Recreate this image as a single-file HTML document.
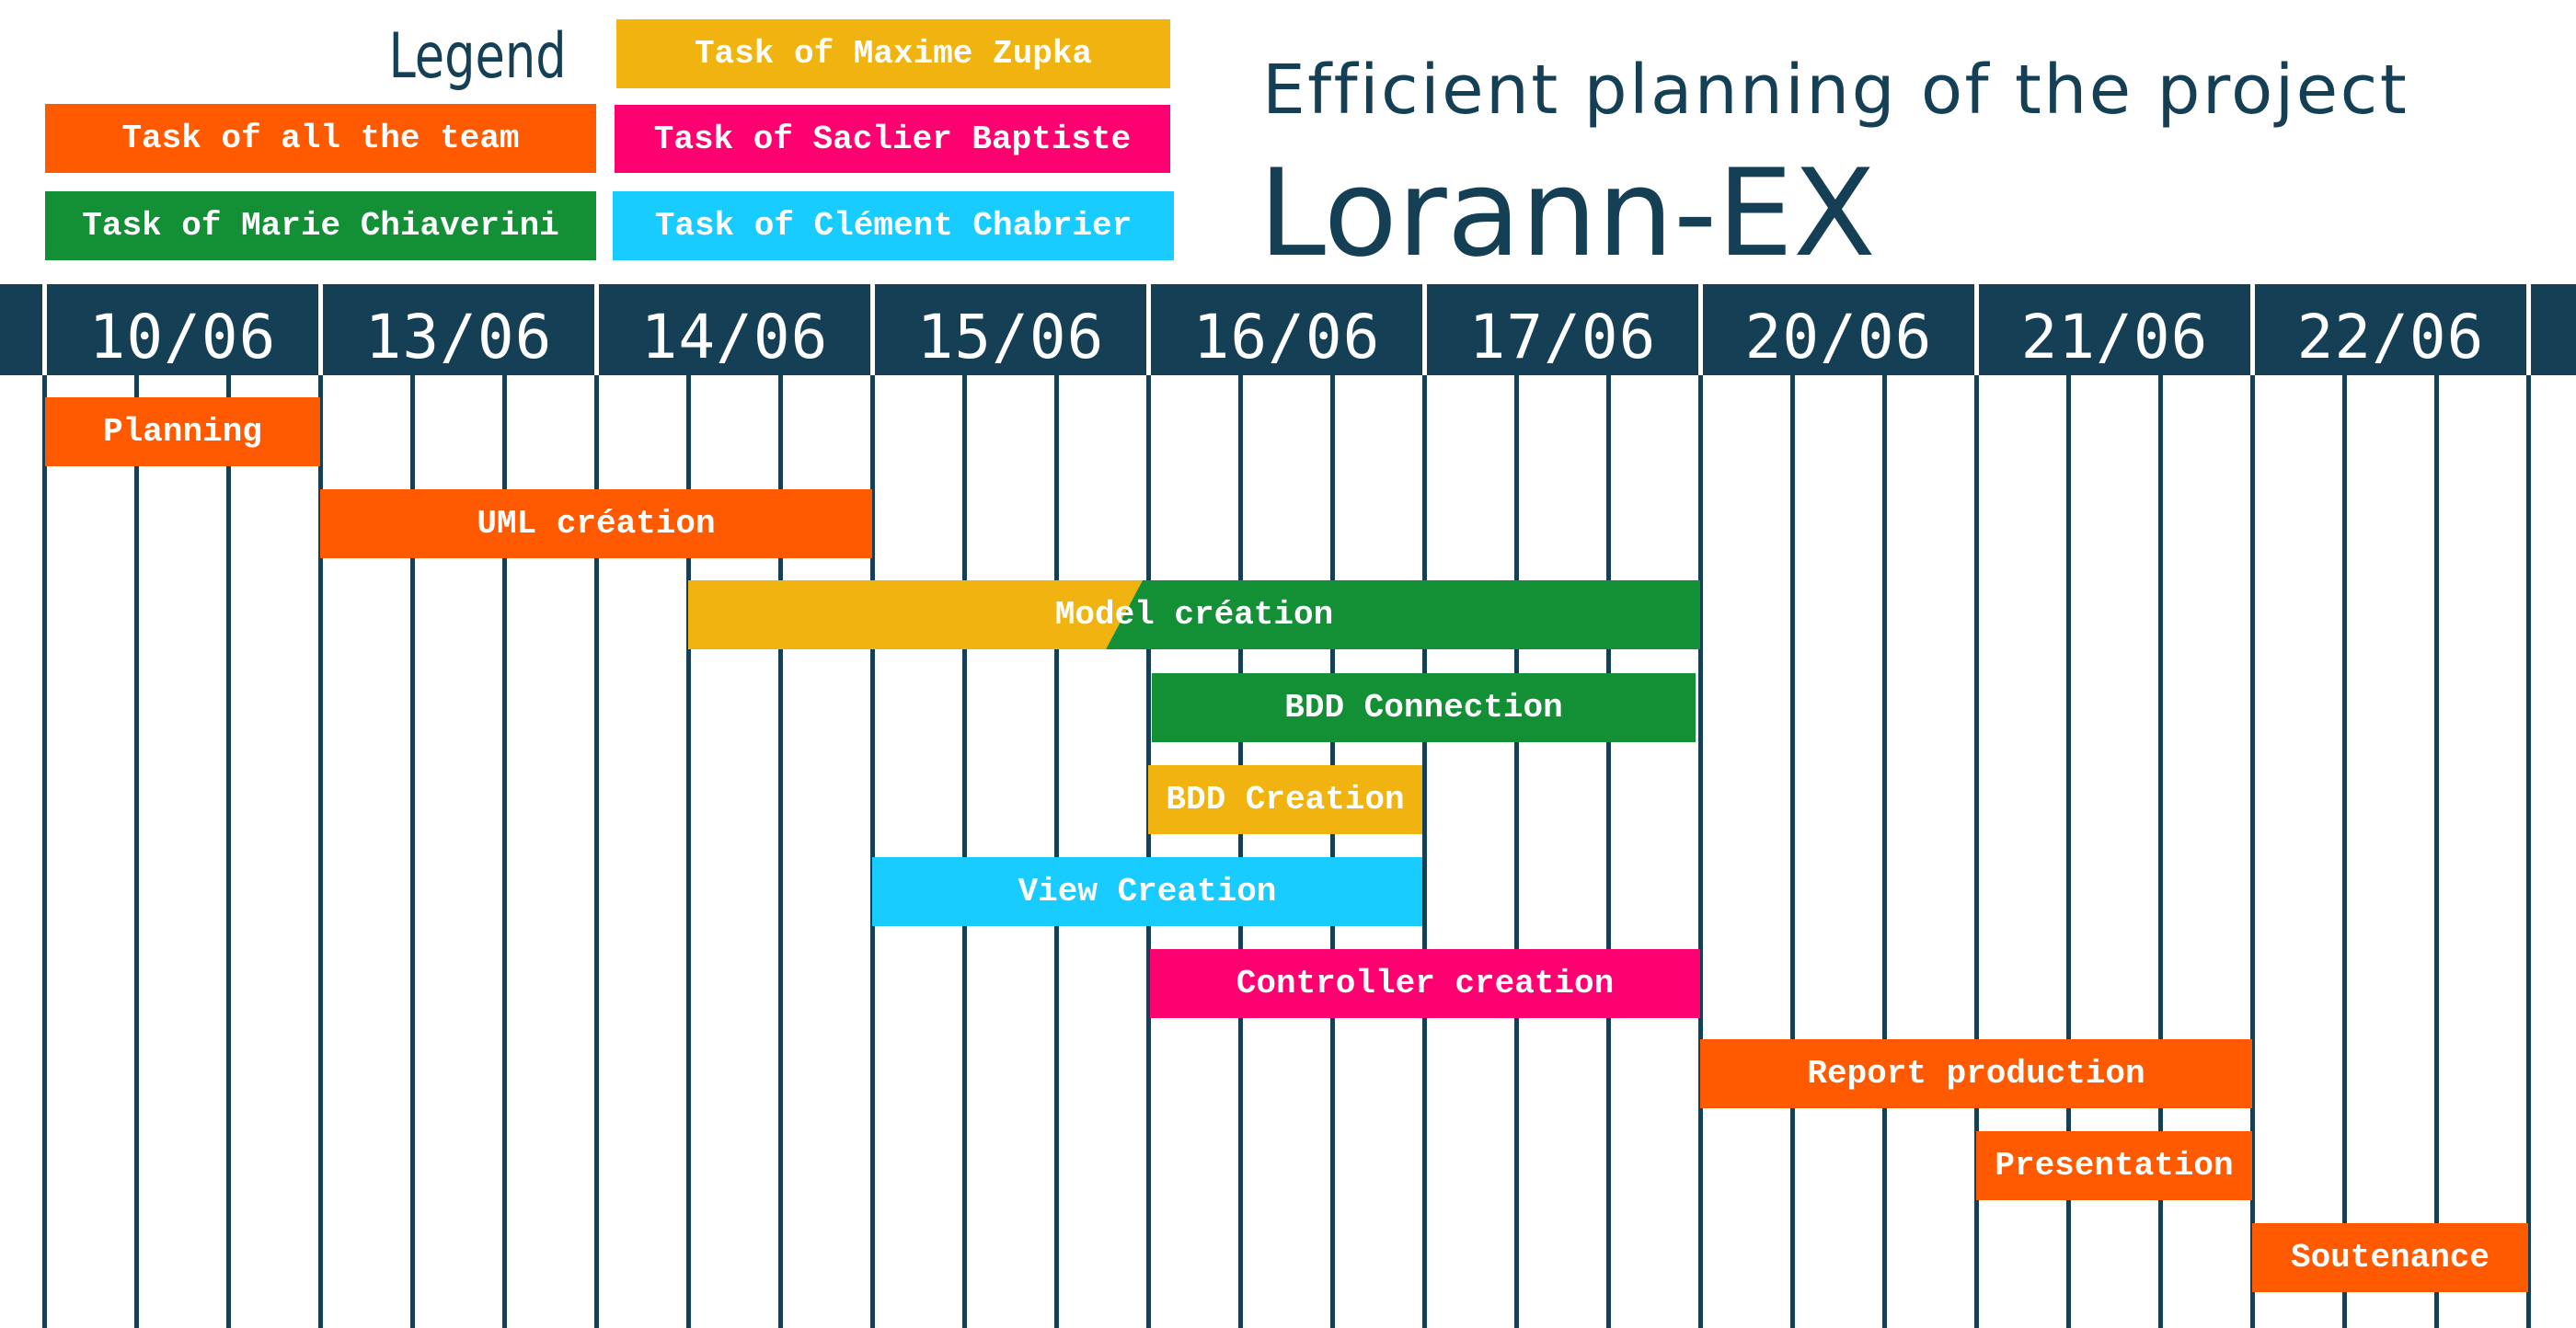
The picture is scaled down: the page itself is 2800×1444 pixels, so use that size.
<!DOCTYPE html>
<html><head><meta charset="utf-8"><style>
body{margin:0;width:2800px;height:1444px;position:relative;background:#fff;overflow:hidden}
.a{position:absolute}
.g{position:absolute;top:408px;height:1036px;width:5px;background:#143f55}
.h{position:absolute;top:309px;height:99px;background:#143f55;color:#fff;font:66px "DejaVu Sans Mono",monospace;text-align:center;line-height:99px;letter-spacing:1px}
.h span{position:relative;top:8px}
.b{position:absolute;height:75px;color:#fff;font:bold 36px "Liberation Mono",monospace;text-align:center;line-height:75px;white-space:nowrap}
.o{background:#ff5a00}.y{background:#f0b30f}.p{background:#ff0070}.gr{background:#138f36}.c{background:#19ccff}
</style></head><body>
<div class="a" style="right:2184px;top:22px;font:68px 'DejaVu Sans Condensed','DejaVu Sans',sans-serif;color:#143f55;transform:scaleX(0.86);transform-origin:right">Legend</div>
<div class="b y" style="left:670px;top:21px;width:602px">Task of Maxime Zupka</div>
<div class="b o" style="left:49px;top:113px;width:599px">Task of all the team</div>
<div class="b p" style="left:668px;top:114px;width:604px;height:74px">Task of Saclier Baptiste</div>
<div class="b gr" style="left:49px;top:208px;width:599px">Task of Marie Chiaverini</div>
<div class="b c" style="left:666px;top:208px;width:610px">Task of Clément Chabrier</div>
<div class="a" style="left:1372px;top:55px;font:74px 'DejaVu Sans',sans-serif;color:#143f55;white-space:nowrap;letter-spacing:2.4px">Efficient planning of the project</div>
<div class="a" style="left:1368px;top:166px;font:131px 'DejaVu Sans',sans-serif;color:#143f55;white-space:nowrap;line-height:1">Lorann-EX</div>
<div class="h" style="left:0;width:46px"></div>
<div class="h" style="left:51px;width:295px"><span>10/06</span></div>
<div class="h" style="left:351px;width:295px"><span>13/06</span></div>
<div class="h" style="left:651px;width:295px"><span>14/06</span></div>
<div class="h" style="left:951px;width:295px"><span>15/06</span></div>
<div class="h" style="left:1251px;width:295px"><span>16/06</span></div>
<div class="h" style="left:1551px;width:295px"><span>17/06</span></div>
<div class="h" style="left:1851px;width:295px"><span>20/06</span></div>
<div class="h" style="left:2151px;width:295px"><span>21/06</span></div>
<div class="h" style="left:2451px;width:295px"><span>22/06</span></div>
<div class="h" style="left:2751px;width:49px"></div>
<div class="g" style="left:46px"></div><div class="g" style="left:146px"></div><div class="g" style="left:246px"></div>
<div class="g" style="left:346px"></div><div class="g" style="left:446px"></div><div class="g" style="left:546px"></div>
<div class="g" style="left:646px"></div><div class="g" style="left:746px"></div><div class="g" style="left:846px"></div>
<div class="g" style="left:946px"></div><div class="g" style="left:1046px"></div><div class="g" style="left:1146px"></div>
<div class="g" style="left:1246px"></div><div class="g" style="left:1346px"></div><div class="g" style="left:1446px"></div>
<div class="g" style="left:1546px"></div><div class="g" style="left:1646px"></div><div class="g" style="left:1746px"></div>
<div class="g" style="left:1846px"></div><div class="g" style="left:1946px"></div><div class="g" style="left:2046px"></div>
<div class="g" style="left:2146px"></div><div class="g" style="left:2246px"></div><div class="g" style="left:2346px"></div>
<div class="g" style="left:2446px"></div><div class="g" style="left:2546px"></div><div class="g" style="left:2646px"></div>
<div class="g" style="left:2746px"></div>
<div class="b o" style="left:49px;top:432px;width:299px">Planning</div>
<div class="b o" style="left:348px;top:532px;width:600px">UML création</div>
<svg class="a" style="left:748px;top:631px" width="1100" height="75"><polygon points="0,0 494,0 454,75 0,75" fill="#f0b30f"/><polygon points="494,0 1100,0 1100,75 454,75" fill="#138f36"/></svg>
<div class="b" style="left:748px;top:631px;width:1100px">Model création</div>
<div class="b gr" style="left:1252px;top:732px;width:591px">BDD Connection</div>
<div class="b y" style="left:1248px;top:832px;width:298px">BDD Creation</div>
<div class="b c" style="left:948px;top:932px;width:598px">View Creation</div>
<div class="b p" style="left:1250px;top:1032px;width:598px">Controller creation</div>
<div class="b o" style="left:1848px;top:1130px;width:600px">Report production</div>
<div class="b o" style="left:2148px;top:1230px;width:300px">Presentation</div>
<div class="b o" style="left:2448px;top:1330px;width:300px">Soutenance</div>
</body></html>
